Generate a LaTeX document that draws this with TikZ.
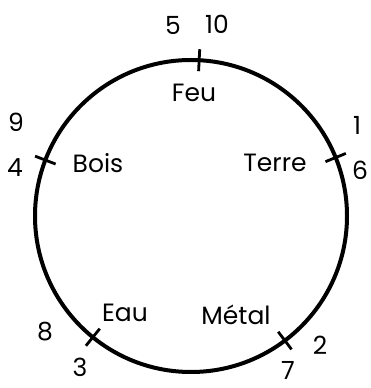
\documentclass[tikz,border=0pt]{standalone}
\usepackage{fontspec}
\setmainfont{Poppins}
\usetikzlibrary{positioning}

\begin{document}
\begin{tikzpicture}[
		x=1pt, y=1pt,
		element/.style={font=\fontsize{25}{28}\selectfont, inner sep=0pt, anchor=center},
		num/.style={font=\fontsize{25}{28}\selectfont, inner sep=0pt, anchor=center},
		ring/.style={circle, draw=black, line width=4pt, minimum size=312pt, inner sep=0pt, outer sep=0pt},
		tick/.style={line width=2.8pt}
	]
	\useasboundingbox (0,0) rectangle (371,388);

	% --- CERCHIO ---
	\node (cycle) [ring] at (191,172) {};

	% --- TACCHE ---
	\foreach \name/\ang in {feu/87, terre/22, metal/-53, eau/-129, bois/159} {
		\coordinate (t_\name) at (cycle.\ang);
		\draw [tick] ([shift={(\ang:-11)}]t_\name) -- ([shift={(\ang:11)}]t_\name);
	}

	% --- ELEMENTI ---
	\node (feu) [element] at (194,295) {Feu};
	\node (terre) [element] at (275,225) {Terre};
	\node (metal) [element] at (236,73) {Métal};
	\node (eau) [element] at (125,75) {Eau};
	\node (bois) [element] at (98,225) {Bois};

	% --- NUMERI ---
	\node (n5) [num] at (173,363) {5};
	\node (n10) [num] at (217,364) {10};
	\node (n1) [num] at (357,263) {1};
	\node (n6) [num] at (360,218) {6};
	\node (n2) [num] at (320,43) {2};
	\node (n7) [num] at (288,18) {7};
	\node (n8) [num] at (45,56) {8};
	\node (n3) [num] at (80,21) {3};
	\node (n9) [num] at (16,266) {9};
	\node (n4) [num] at (15,220) {4};
\end{tikzpicture}
\end{document}
